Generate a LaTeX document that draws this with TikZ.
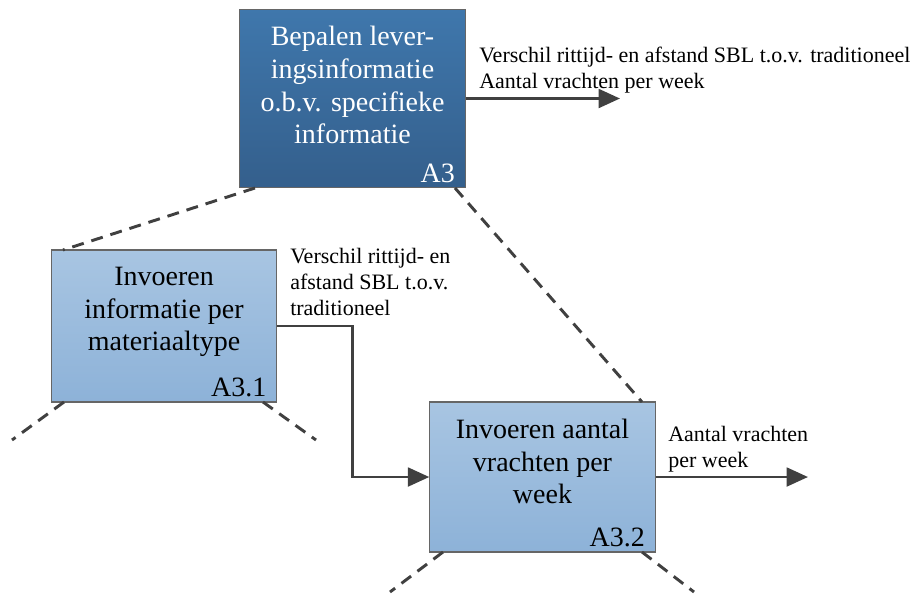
\documentclass[tikz,border=0pt]{standalone}
\usepackage{fontspec}
\setmainfont{Liberation Serif}
\usetikzlibrary{positioning,arrows.meta}
\definecolor{darktop}{HTML}{3F77AC}
\definecolor{darkbot}{HTML}{345F8C}
\definecolor{lighttop}{HTML}{A8C5E2}
\definecolor{lightbot}{HTML}{8DB2D8}
\definecolor{linegray}{HTML}{404040}
\begin{document}
\begin{tikzpicture}
  [x=0.75pt,y=-0.75pt,every node/.style={inner sep=0pt},
   box/.style={draw=gray!80!black,line width=0.8pt,minimum width=169pt},
   darkbox/.style={box,top color=darktop,bottom color=darkbot},
   lightbox/.style={box,top color=lighttop,bottom color=lightbot},
   title/.style={align=center,font=\fontsize{21}{24.5}\selectfont},
   boxid/.style={font=\fontsize{21}{24}\selectfont},
   note/.style={align=left,anchor=north west,font=\fontsize{16.5}{19.5}\selectfont},
   flow/.style={draw=linegray,line width=2.2pt,-{Triangle[length=16pt,width=14pt]}},
   leg/.style={draw=linegray,line width=2.2pt,dash pattern=on 9pt off 6pt}]
  \useasboundingbox (0,0) rectangle (919,594);

  \node[darkbox,minimum height=134pt] (a3) at (352.5,98.5) {};
  \node[lightbox,minimum height=114pt] (a31) at (164,326) {};
  \node[lightbox,minimum height=112.5pt] (a32) at (542.5,477) {};

  \node[title,text=white,below=13pt of a3.north,anchor=north] (t3) {Bepalen lever-\\ingsinformatie\\o.b.v. specifieke\\informatie};
  \node[title,below=13pt of a31.north,anchor=north] (t31) {Invoeren\\informatie per\\materiaaltype};
  \node[title,below=13pt of a32.north,anchor=north] (t32) {Invoeren aantal\\vrachten per\\week};

  \node[boxid,text=white,above left=4pt and 8pt of a3.south east] (id3) {A3};
  \node[boxid,above left=4pt and 8pt of a31.south east] (id31) {A3.1};
  \node[boxid,above left=4pt and 8pt of a32.south east] (id32) {A3.2};

  \node[note] (n3) at (479,47) {Verschil rittijd- en afstand SBL t.o.v. traditioneel\\Aantal vrachten per week};
  \node[note] (n31) at (290,248) {Verschil rittijd- en\\afstand SBL t.o.v.\\traditioneel};
  \node[note] (n32) at (668,426) {Aantal vrachten\\per week};

  \coordinate (out3) at (620,98.5);
  \coordinate (out32) at (808,477);
  \coordinate (p3l) at (255,188);
  \coordinate (p3r) at (455,188);
  \coordinate (p31) at (63,250);
  \coordinate (p32) at (642,402);
  \coordinate (q31l) at (64,402);
  \coordinate (q31r) at (263,402);
  \coordinate (q32l) at (443,552);
  \coordinate (q32r) at (642,552);
  \coordinate (e31l) at (12,440);
  \coordinate (e31r) at (316,440);
  \coordinate (e32l) at (390,592);
  \coordinate (e32r) at (694,592);

\draw[flow] (a3.east) -- (out3);
\draw[flow] (a32.east) -- (out32);
\draw[flow] (a31.east) -- ++(75,0) |- (a32.west);

\path[leg]
    (p3l) edge (p31)
    (p3r) edge (p32)
    (q31l) edge (e31l)
    (q31r) edge (e31r)
    (q32l) edge (e32l)
    (q32r) edge (e32r)
    ;

\end{tikzpicture}
\end{document}
